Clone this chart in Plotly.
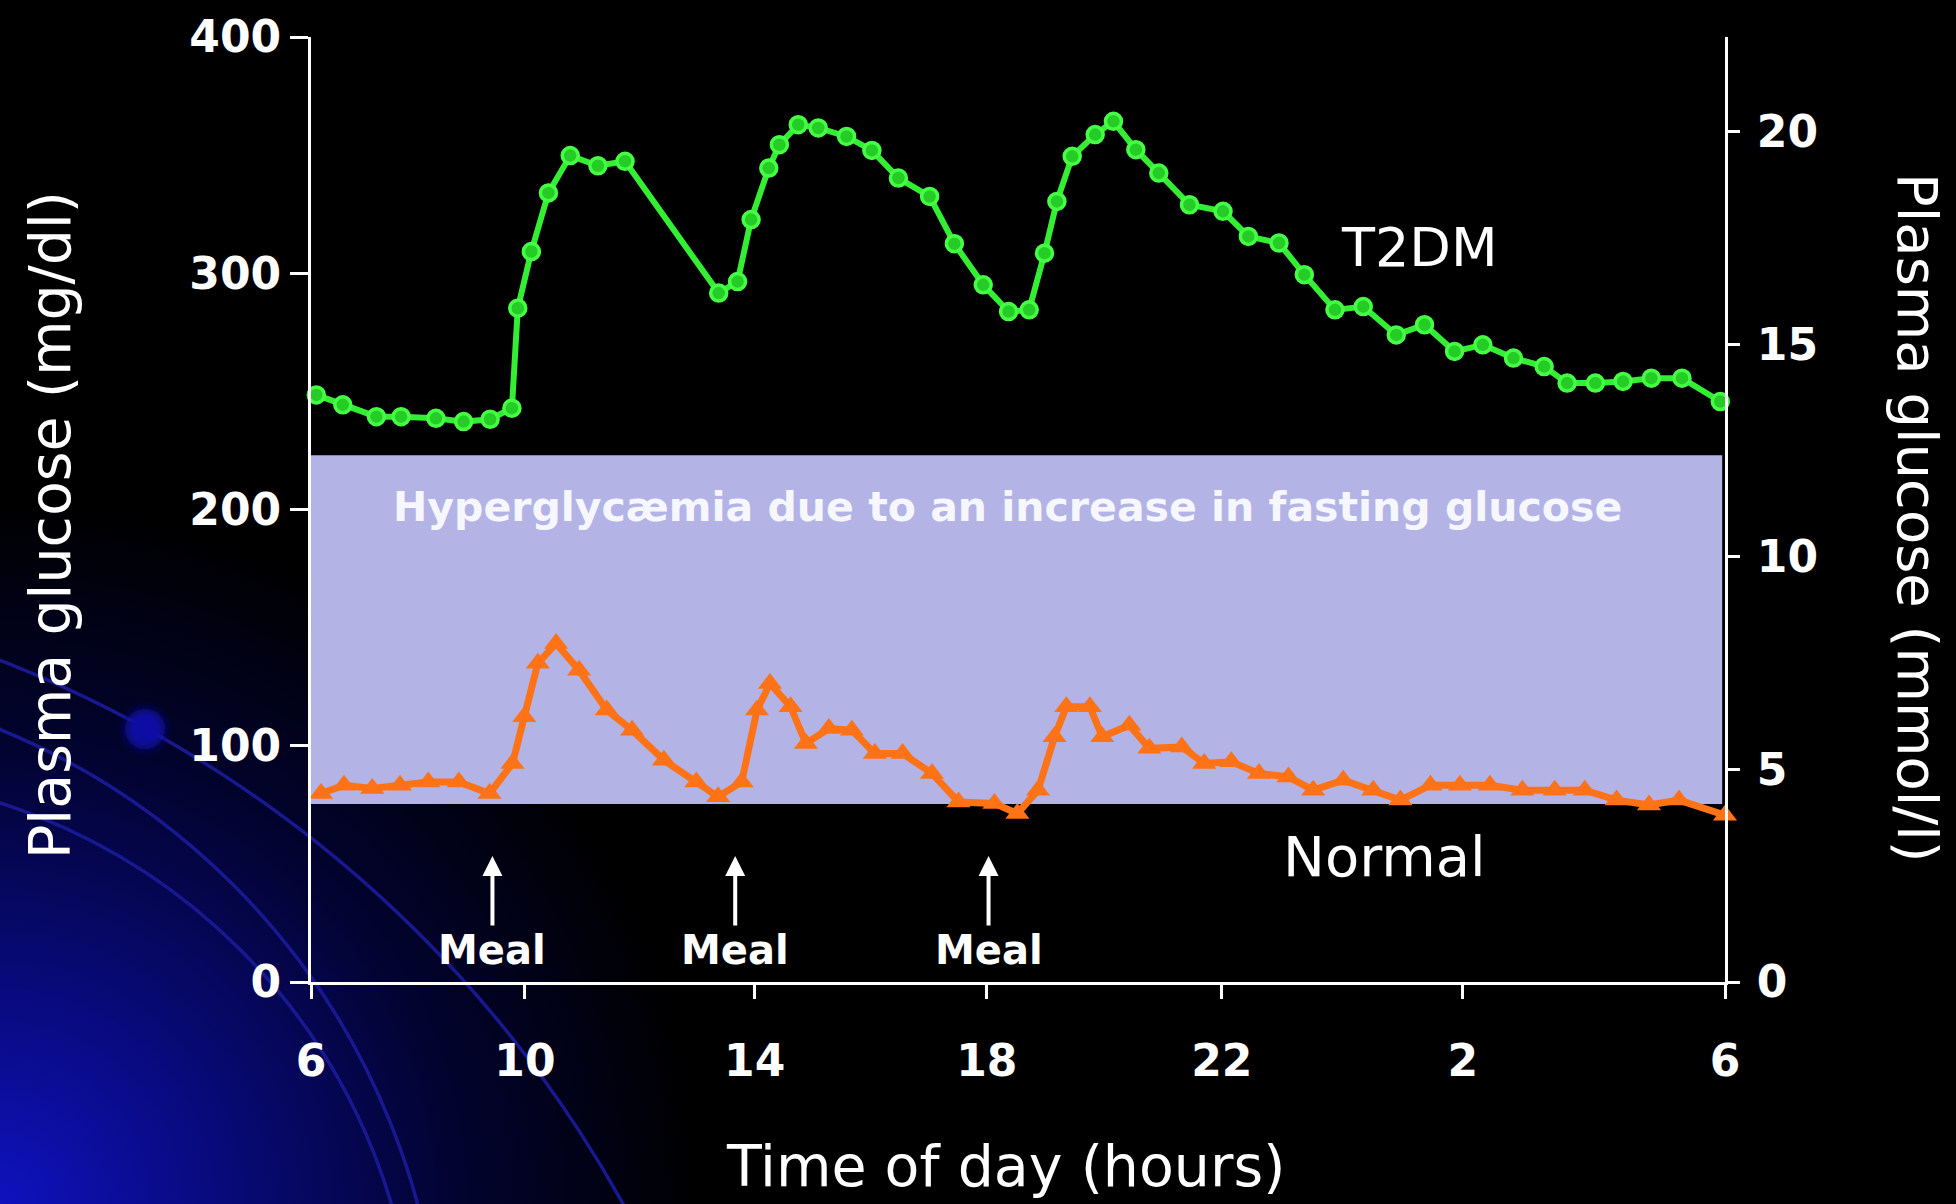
import base64
import plotly.graph_objects as go

# ---------------- data ----------------
t2dm_hours = [6.09, 6.54, 7.11, 7.53, 8.12, 8.59, 9.04, 9.41, 9.51, 9.74, 10.03, 10.40,
              10.87, 11.33, 12.92, 13.24, 13.47, 13.77, 13.95, 14.27, 14.61, 15.09, 15.52,
              15.97, 16.50, 16.92, 17.41, 17.84, 18.19, 18.45, 18.66, 18.92, 19.31, 19.62,
              20.00, 20.39, 20.91, 21.48, 21.91, 22.43, 22.86, 23.38, 23.86, 24.42, 24.90,
              25.41, 25.89, 26.41, 26.93, 27.32, 27.80, 28.27, 28.75, 29.27, 29.92]
t2dm_mgdl = [248.5, 244.3, 239.3, 239.3, 238.6, 237.2, 238.2, 242.9, 285.2, 309.2, 334.0,
             349.8, 345.5, 347.4, 291.6, 296.5, 322.7, 344.5, 354.4, 362.9, 361.5, 357.9,
             352.0, 340.3, 332.5, 312.5, 295.1, 283.8, 284.5, 308.5, 330.4, 349.5, 358.7,
             364.3, 352.3, 342.4, 329.0, 326.2, 315.6, 312.8, 299.4, 284.5, 285.9, 273.9,
             278.2, 266.9, 269.7, 264.1, 260.5, 253.5, 253.5, 254.2, 255.6, 255.6, 245.7]

normal_hours = [6.17, 6.56, 7.04, 7.51, 7.99, 8.51, 9.03, 9.42, 9.62, 9.85, 10.16, 10.55,
                11.02, 11.45, 11.99, 12.54, 12.91, 13.31, 13.57, 13.79, 14.14, 14.40, 14.79,
                15.18, 15.57, 16.04, 16.54, 16.99, 17.60, 17.99, 18.34, 18.62, 18.82, 19.22,
                19.43, 19.89, 20.23, 20.78, 21.16, 21.62, 22.09, 22.59, 23.01, 23.52, 24.03,
                24.49, 25.00, 25.50, 26.01, 26.56, 27.11, 27.62, 28.16, 28.71, 29.22, 30.00]
normal_mgdl = [79.8, 83.3, 81.9, 83.3, 84.7, 84.7, 79.8, 92.5, 112.3, 134.9, 143.3, 132.0,
               115.1, 106.6, 93.9, 84.7, 78.4, 84.7, 115.1, 126.4, 116.5, 101.0, 107.3,
               106.6, 96.7, 96.7, 88.3, 76.2, 75.6, 71.3, 81.2, 103.8, 116.5, 116.5, 103.8,
               108.7, 98.9, 99.5, 92.5, 93.2, 88.3, 86.8, 81.2, 85.4, 81.2, 77.0, 83.3, 83.3,
               83.3, 81.2, 81.2, 81.2, 77.0, 74.9, 77.0, 70.6]

meal_hours = [9.08, 13.20, 17.50]
meal_label = "Meal"

hyper_band_mgdl = [75.3, 223.0]
band_label = "Hyperglycæmia due to an increase in fasting glucose"

x_tick_vals = [6, 9.63, 13.53, 17.47, 21.46, 25.55, 30]
x_tick_text = ["6", "10", "14", "18", "22", "2", "6"]
y_tick_vals = [0, 100, 200, 300, 400]
y2_tick_vals = [0, 5, 10, 15, 20]
MGDL_PER_MMOL = 18.0

series_names = ["T2DM", "Normal"]
x_title = "Time of day (hours)"
y_title = "Plasma glucose (mg/dl)"
y2_title = "Plasma glucose (mmol/l)"

# ---------------- layout geometry ----------------
W, H = 1956, 1204
ML, MR, MT, MB = 311, 231, 37, 222
PW, PH = W - ML - MR, H - MT - MB

def paper_xy(px, py):
    return (px - ML) / PW, (H - MB - py) / PH

FONT = "DejaVu Sans"
WHITE = "#ffffff"

# background (slide template): blue glow and arcs, as an SVG image
svg = f'''<svg xmlns="http://www.w3.org/2000/svg" width="{W}" height="{H}" viewBox="0 0 {W} {H}" preserveAspectRatio="none">
<defs>
<radialGradient id="glow" gradientUnits="userSpaceOnUse" cx="0" cy="{H}" r="700">
<stop offset="0" stop-color="#0f12be"/>
<stop offset="0.3" stop-color="#080a7e"/>
<stop offset="0.65" stop-color="#020330"/>
<stop offset="1" stop-color="#000000"/>
</radialGradient>
<filter id="blur" x="-1" y="-1" width="3" height="3"><feGaussianBlur stdDeviation="4"/></filter>
</defs>
<rect width="{W}" height="{H}" fill="#000000"/>
<rect width="{W}" height="{H}" fill="url(#glow)"/>
<g fill="none" stroke="#181890" stroke-width="3.5">
<circle cx="-443" cy="1797" r="1220"/>
<circle cx="-271" cy="1389" r="713"/>
<circle cx="-184" cy="1374" r="600"/>
</g>
<circle cx="145" cy="729" r="20" fill="#1010a4" filter="url(#blur)"/>
</svg>'''
svg_uri = "data:image/svg+xml;base64," + base64.b64encode(svg.encode("utf-8")).decode("ascii")

fig = go.Figure()

fig.add_trace(go.Scatter(
    x=t2dm_hours, y=t2dm_mgdl, name=series_names[0], mode="lines+markers",
    line=dict(color="#33ee33", width=6),
    marker=dict(symbol="circle", size=16, color="#26cc26",
                line=dict(color="#44ff44", width=3.5)),
    cliponaxis=False, showlegend=False))

fig.add_trace(go.Scatter(
    x=normal_hours, y=normal_mgdl, name=series_names[1], mode="lines+markers",
    line=dict(color="#ff7216", width=7),
    marker=dict(symbol="triangle-up", size=21, color="#ff7216"),
    cliponaxis=False, showlegend=False))

# invisible trace so the mmol/l axis is attached
fig.add_trace(go.Scatter(
    x=[t2dm_hours[0]], y=[t2dm_mgdl[0] / MGDL_PER_MMOL], yaxis="y2",
    mode="markers", marker=dict(opacity=0), hoverinfo="skip", showlegend=False))

axis_common = dict(showline=True, linecolor=WHITE, linewidth=3, ticks="outside",
                   tickcolor=WHITE, tickwidth=3, showgrid=False, zeroline=False,
                   tickfont=dict(family=FONT, size=44, color=WHITE, weight="bold"))

fig.update_layout(
    width=W, height=H,
    margin=dict(l=ML, r=MR, t=MT, b=MB, autoexpand=False),
    paper_bgcolor="#000000", plot_bgcolor="rgba(0,0,0,0)",
    showlegend=False,
    xaxis=dict(range=[6, 30], tickvals=x_tick_vals, ticktext=x_tick_text,
               ticklen=14, ticklabelstandoff=24, **axis_common),
    yaxis=dict(range=[0, 400], tickvals=y_tick_vals, ticklen=18, **axis_common),
    yaxis2=dict(range=[0, 400 / MGDL_PER_MMOL], tickvals=y2_tick_vals, overlaying="y",
                side="right", anchor="x", ticklen=12, ticklabelstandoff=8,
                **axis_common),
)

x0p, y0p = paper_xy(0, 0)
fig.add_layout_image(dict(
    source=svg_uri, xref="paper", yref="paper", x=x0p, y=y0p,
    sizex=W / PW, sizey=H / PH, xanchor="left", yanchor="top",
    sizing="stretch", layer="below"))

# hyperglycaemia band
fig.add_shape(type="rect", xref="paper", yref="y", x0=0, x1=0.998,
              y0=hyper_band_mgdl[0], y1=hyper_band_mgdl[1],
              fillcolor="#b3b3e6", line=dict(width=0), layer="below")

fig.add_annotation(x=17.82, y=201, text=band_label, showarrow=False,
                   xanchor="center", yanchor="middle",
                   font=dict(family=FONT, size=41, color="#f6f6ff", weight="bold"))

fig.add_annotation(x=24.81, y=311, text=series_names[0], showarrow=False,
                   xanchor="center", yanchor="middle",
                   font=dict(family=FONT, size=54, color=WHITE))
fig.add_annotation(x=24.22, y=53, text=series_names[1], showarrow=False,
                   xanchor="center", yanchor="middle",
                   font=dict(family=FONT, size=56, color=WHITE))

for mh in meal_hours:
    fig.add_annotation(x=mh, y=53.3, ax=0, ay=94, text=meal_label, showarrow=True,
                       arrowhead=2, arrowsize=1, arrowwidth=4, arrowcolor=WHITE,
                       standoff=0, startstandoff=0,
                       font=dict(family=FONT, size=40, color=WHITE, weight="bold"))

# axis titles
lx, ly = paper_xy(50, 525)
fig.add_annotation(xref="paper", yref="paper", x=lx, y=ly, text=y_title, textangle=-90,
                   xanchor="center", yanchor="middle", showarrow=False,
                   font=dict(family=FONT, size=57, color=WHITE))
rx, ry = paper_xy(1918, 518)
fig.add_annotation(xref="paper", yref="paper", x=rx, y=ry, text=y2_title, textangle=90,
                   xanchor="center", yanchor="middle", showarrow=False,
                   font=dict(family=FONT, size=56, color=WHITE))
bx, by = paper_xy(1005, 1166)
fig.add_annotation(xref="paper", yref="paper", x=bx, y=by, text=x_title,
                   xanchor="center", yanchor="middle", showarrow=False,
                   font=dict(family=FONT, size=57, color=WHITE))

fig.write_html("out.html")
